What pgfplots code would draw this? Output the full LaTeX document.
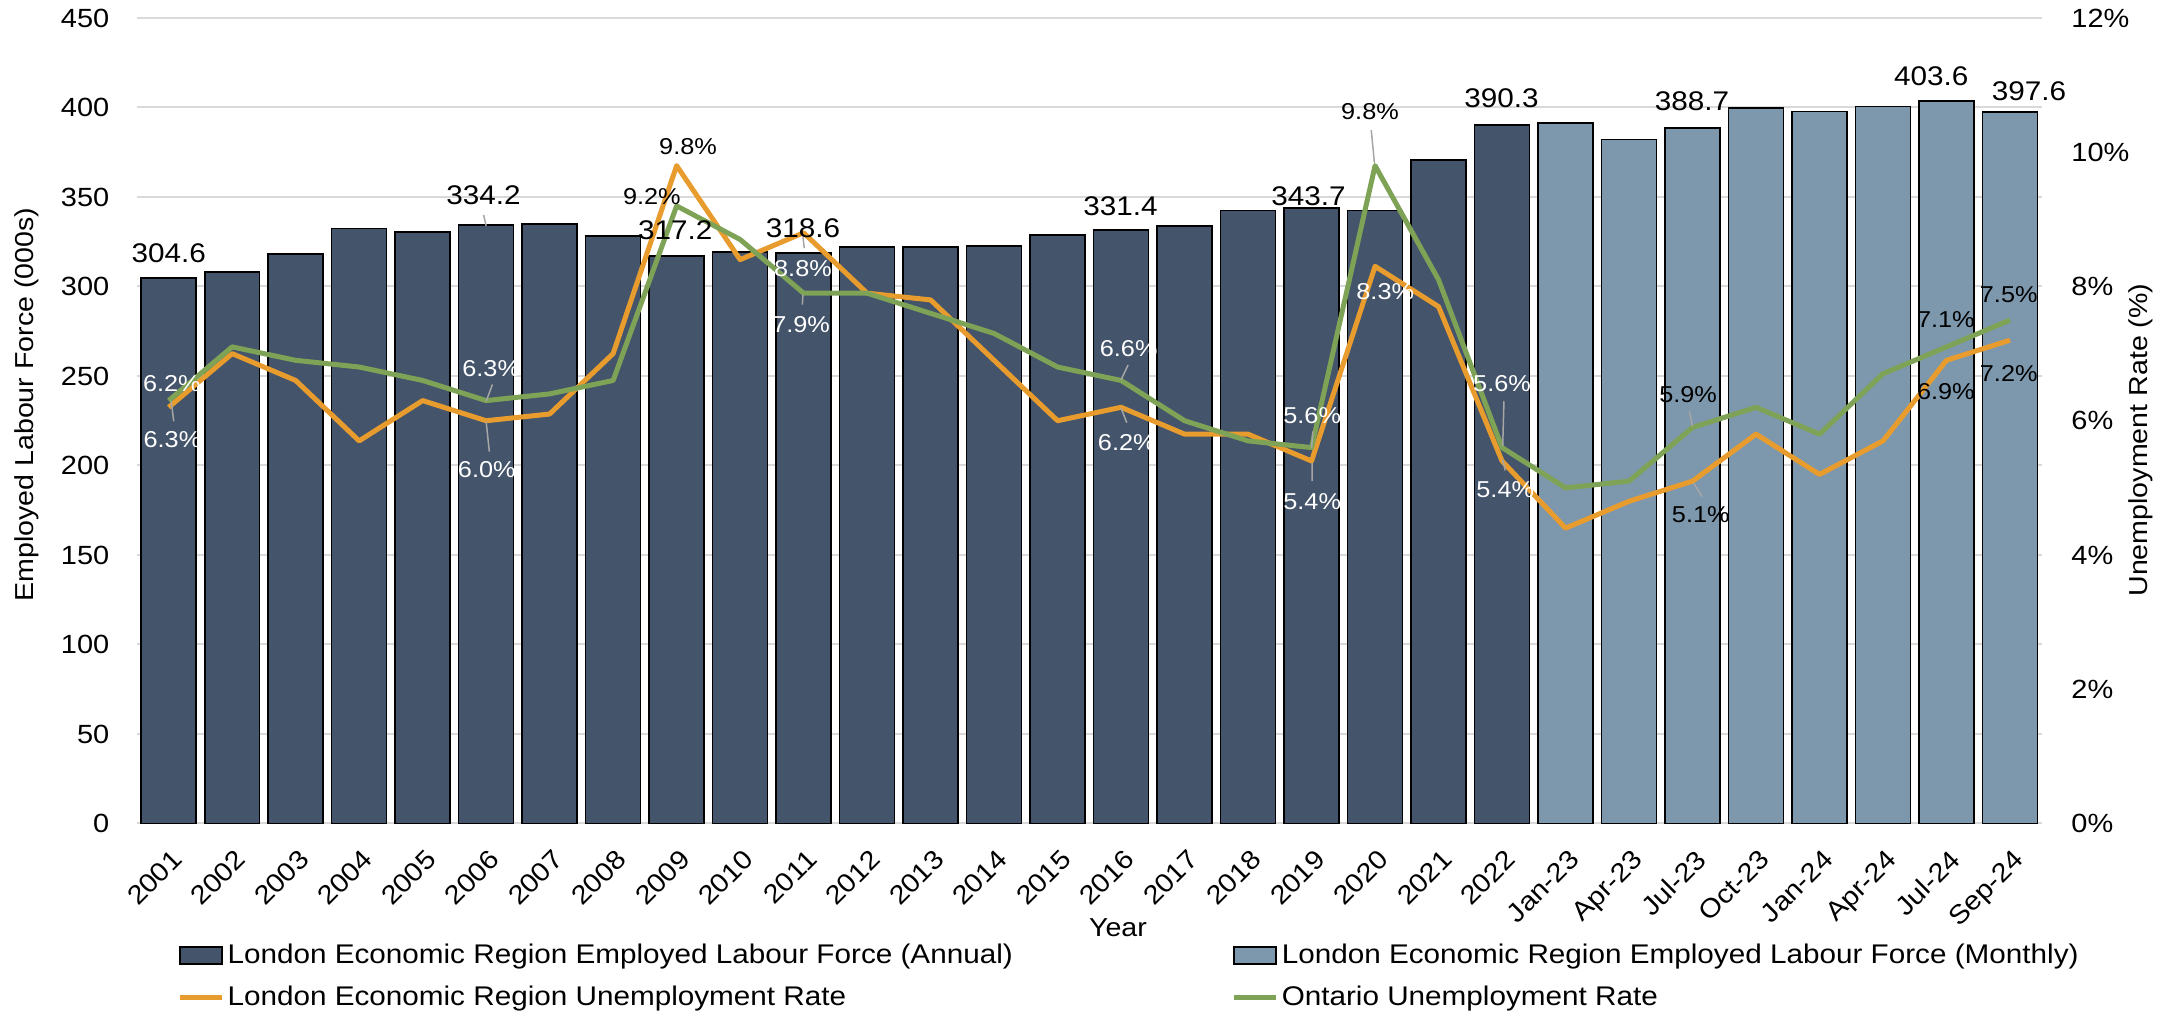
\documentclass[border=0pt]{standalone}
\usepackage{fontspec}
\setmainfont{Liberation Sans}[FakeStretch=1.1]
\usepackage{pgfplots}
\pgfplotsset{compat=1.18}

\definecolor{annual}{HTML}{44546A}
\definecolor{monthly}{HTML}{7D98AC}
\definecolor{london}{HTML}{E89C2E}
\definecolor{ontario}{HTML}{7EA356}
\definecolor{gridgray}{HTML}{D9D9D9}
\definecolor{leadgray}{HTML}{A6A6A6}

\newcommand\fTick{\fontsize{7.9}{9.5}\selectfont}
\newcommand\fTitle{\fontsize{7.8}{9.4}\selectfont}
\newcommand\fLeg{\fontsize{8.1}{9.7}\selectfont}
\newcommand\fBar{\fontsize{8.1}{9.7}\selectfont}
\newcommand\fPct{\fontsize{6.9}{8.3}\selectfont}

\pgfplotsset{
  base/.style={scale only axis, width=571.8pt, height=241.8pt,
    at={(41.1pt,57.6pt)}, anchor=south west,
    xmin=-0.5, xmax=29.5, axis line style={draw=none}, major tick length=0pt,
    /pgf/number format/assume math mode=true, clip=false},
  lab/.style={draw=none, mark=none, forget plot, point meta=explicit symbolic,
    nodes near coords align={center},
    every node near coord/.append style={anchor=center, inner sep=0pt}},
  leader/.style={leadgray, line width=0.45pt, forget plot, unbounded coords=jump, mark=none},
  barleg/.style={legend image code/.code={\draw[##1, line width=0.5pt] (0pt,-2.5pt) rectangle (12.6pt,2.5pt); \path (13.5pt,0pt);}},
}

\begin{document}
\begin{tikzpicture}
\path (0,0) rectangle (649.2pt,304.8pt);

% bars, left axis
\begin{axis}[base, ybar, bar width=0.866, bar shift=0pt,
  ymin=0, ymax=450, ytick={0,50,...,450},
  ymajorgrids, grid style={gridgray, line width=0.6pt},
  xtick={0,...,29},
  xticklabels={2001,2002,2003,2004,2005,2006,2007,2008,2009,2010,2011,2012,2013,2014,2015,2016,2017,2018,2019,2020,2021,2022,Jan-23,Apr-23,Jul-23,Oct-23,Jan-24,Apr-24,Jul-24,Sep-24},
  tick label style={font=\fTick},
  yticklabel style={anchor=east, inner sep=0pt, xshift=-8.1pt},
  xticklabel style={inner sep=0pt, text depth=0pt, xshift=2.7pt, yshift=-9.3pt, rotate=45, anchor=east},
  xlabel={Year}, ylabel={Employed Labour Force (000s)},
  label style={font=\fTitle},
  xlabel style={at={(axis description cs:0.515,-0.129)}, anchor=center},
  ylabel style={at={(axis description cs:-0.0577,0.52)}, anchor=center}]
\addplot[fill=annual, draw=black, line width=0.5pt] coordinates {
  (0,304.6) (1,308.0) (2,318.3) (3,332.4) (4,330.5) (5,334.2) (6,335.0) (7,328.3)
  (8,317.2) (9,319.4) (10,318.6) (11,321.9) (12,322.2) (13,322.5) (14,328.9)
  (15,331.4) (16,333.9) (17,342.5) (18,343.7) (19,342.5) (20,370.7) (21,390.3)};
\addplot[fill=monthly, draw=black, line width=0.5pt] coordinates {
  (22,391.2) (23,382.2) (24,388.7) (25,399.6) (26,397.7) (27,400.5) (28,403.6) (29,397.6)};
\end{axis}

% rates, right axis
\begin{axis}[base, ymin=0, ymax=12, ytick={0,2,...,12},
  yticklabel={\pgfmathprintnumber{\tick}\%}, yticklabel pos=right,
  hide x axis, xtick=\empty,
  tick label style={font=\fTick},
  yticklabel style={anchor=west, inner sep=0pt, xshift=8.7pt},
  ylabel={Unemployment Rate (\%)}, label style={font=\fTitle},
  ylabel style={at={(axis description cs:1.052,0.476)}, anchor=center},
  legend columns=2, legend cell align=left,
  legend image code/.code={\draw[#1] (0pt,0pt) -- (12.6pt,0pt); \path (13.5pt,0pt);},
  legend style={at={(axis description cs:0.021,-0.1476)}, anchor=north west,
    draw=none, fill=none, inner sep=0pt, font=\fLeg, row sep=5.1pt, column sep=0pt,
    /tikz/every even column/.append style={column sep=65.7pt},
    nodes={inner sep=0pt, text height=6pt, text depth=1.5pt}}]
\addlegendimage{barleg, fill=annual, draw=black}
\addlegendentry{London Economic Region Employed Labour Force (Annual)}
\addlegendimage{barleg, fill=monthly, draw=black}
\addlegendentry{London Economic Region Employed Labour Force (Monthly)}

\addplot[london, line width=1.5pt, line join=round, mark=none] coordinates {
  (0,6.2) (1,7.0) (2,6.6) (3,5.7) (4,6.3) (5,6.0) (6,6.1) (7,7.0) (8,9.8) (9,8.4)
  (10,8.8) (11,7.9) (12,7.8) (13,6.9) (14,6.0) (15,6.2) (16,5.8) (17,5.8) (18,5.4)
  (19,8.3) (20,7.7) (21,5.4) (22,4.4) (23,4.8) (24,5.1) (25,5.8) (26,5.2) (27,5.7)
  (28,6.9) (29,7.2)};
\addlegendentry{London Economic Region Unemployment Rate}
\addplot[ontario, line width=1.5pt, line join=round, mark=none] coordinates {
  (0,6.3) (1,7.1) (2,6.9) (3,6.8) (4,6.6) (5,6.3) (6,6.4) (7,6.6) (8,9.2) (9,8.7)
  (10,7.9) (11,7.9) (12,7.6) (13,7.3) (14,6.8) (15,6.6) (16,6.0) (17,5.7) (18,5.6)
  (19,9.8) (20,8.1) (21,5.6) (22,5.0) (23,5.1) (24,5.9) (25,6.2) (26,5.8) (27,6.7)
  (28,7.1) (29,7.5)};
\addlegendentry{Ontario Unemployment Rate}

\addplot[leader] coordinates {
  (0.04,6.29) (0.08,5.99) (nan,nan)
  (5.0,6.29) (5.1,6.54) (nan,nan)
  (5.0,5.99) (5.05,5.54) (nan,nan)
  (9.99,7.88) (9.98,7.73) (nan,nan)
  (15.11,6.83) (15.0,6.61) (nan,nan)
  (15.0,6.19) (15.09,5.97) (nan,nan)
  (18.02,5.84) (18.0,5.59) (nan,nan)
  (18.01,5.37) (18.01,5.10) (nan,nan)
  (18.94,10.33) (18.99,9.84) (nan,nan)
  (21.03,6.29) (21.01,5.62) (nan,nan)
  (21.01,5.42) (21.05,5.26) (nan,nan)
  (23.95,6.14) (24.0,5.92) (nan,nan)
  (24.02,5.07) (24.15,4.87)};

\addplot[lab, nodes near coords={\pgfplotspointmeta\%},
  every node near coord/.append style={font=\fPct, text=white}] table[meta=lab] {
x y lab
0.05 6.56 6.2
0.06 5.72 6.3
5.08 6.78 6.3
5.01 5.27 6.0
9.99 8.27 8.8
9.96 7.43 7.9
15.12 7.08 6.6
15.09 5.67 6.2
18.01 6.07 5.6
18.01 4.80 5.4
19.16 7.93 8.3
21.00 6.56 5.6
21.05 4.97 5.4
};
\addplot[lab, nodes near coords={\pgfplotspointmeta\%},
  every node near coord/.append style={font=\fPct, text=black}] table[meta=lab] {
x y lab
7.61 9.34 9.2
8.18 10.08 9.8
18.92 10.60 9.8
23.93 6.39 5.9
24.13 4.60 5.1
27.99 7.50 7.1
27.99 6.44 6.9
28.98 7.88 7.5
28.98 6.71 7.2
};
\end{axis}

% bar value labels, left scale
\begin{axis}[base, ymin=0, ymax=450, hide axis]
\addplot[leader] coordinates {
  (4.96,340.0) (5.0,333.9) (nan,nan)
  (9.99,327.9) (10.01,321.4)};
\addplot[lab, nodes near coords={\pgfplotspointmeta},
  every node near coord/.append style={font=\fBar, text=black}] table[meta=lab] {
x y lab
0.00 318.6 304.6
4.96 351.2 334.2
7.98 331.6 317.2
9.99 332.6 318.6
14.99 345.0 331.4
17.95 350.2 343.7
20.99 405.2 390.3
23.99 403.3 388.7
27.76 417.3 403.6
29.30 408.9 397.6
};
\end{axis}
\end{tikzpicture}
\end{document}
